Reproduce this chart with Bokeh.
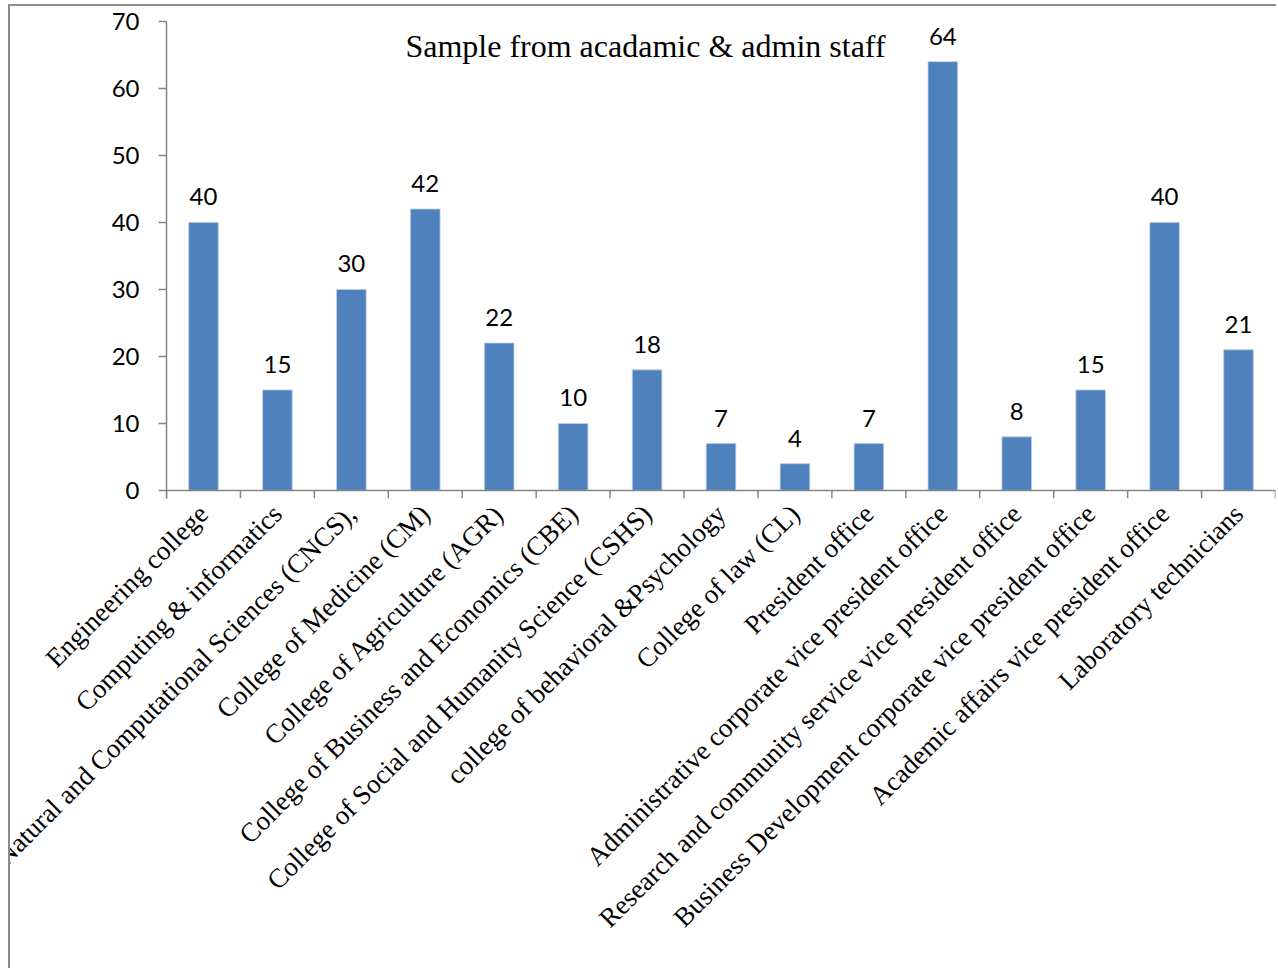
import math
from bokeh.plotting import figure
from bokeh.models import (FactorRange, Range1d, FixedTicker, Label,
                          ColumnDataSource, Span)
from bokeh.core.properties import value
from bokeh.embed import file_html
from bokeh.resources import INLINE

categories = [
    "Engineering college",
    "Computing & informatics",
    "College of Natural and Computational Sciences (CNCS),",
    "College of Medicine (CM)",
    "College of Agriculture (AGR)",
    "College of Business and Economics (CBE)",
    "College of Social and Humanity Science (CSHS)",
    "college of behavioral &Psychology",
    "College of law (CL)",
    "President office",
    "Administrative corporate vice president office",
    "Research and community service vice president office",
    "Business Development corporate vice president office",
    "Academic affairs vice president office",
    "Laboratory technicians",
]
counts = [40, 15, 30, 42, 22, 10, 18, 7, 4, 7, 64, 8, 15, 40, 21]
y_ticks = [0, 10, 20, 30, 40, 50, 60, 70]
title_text = "Sample from acadamic & admin staff"

AXIS = "#868686"
BAR = "#4F81BD"
Y_MIN = -1.2  # room below zero for the category tick marks

src = ColumnDataSource(dict(cat=categories, n=counts, lab=[str(v) for v in counts]))

p = figure(width=1268, height=964, x_range=FactorRange(*categories),
           y_range=Range1d(Y_MIN, 70), output_backend="svg", toolbar_location=None,
           min_border_left=156, min_border_right=3, min_border_top=15,
           min_border_bottom=472)
p.styles = {"margin-left": "8px", "margin-top": "4px",
            "border-left": "2px solid #8c8c8c", "border-top": "2px solid #8c8c8c"}
p.outline_line_color = None
p.grid.visible = False

p.vbar(x="cat", top="n", width=0.4, source=src, fill_color=BAR,
       line_color="#b9cde5", line_width=0.8)

p.text(x="cat", y="n", text="lab", source=src, text_align="center",
       text_baseline="bottom", y_offset=-17, text_font=value("Lato"),
       text_font_size="24px", text_color="black")

# x axis line at zero and tick marks at category boundaries
p.add_layout(Span(location=0, dimension="width", line_color=AXIS, line_width=1.5))
bounds = list(range(len(categories) + 1))
p.segment(x0=bounds, y0=[0] * len(bounds), x1=bounds, y1=[Y_MIN] * len(bounds),
          line_color=AXIS, line_width=1.5)

# y axis
ya = p.yaxis[0]
ya.ticker = FixedTicker(ticks=y_ticks)
ya.axis_line_color = AXIS
ya.axis_line_width = 1.5
ya.major_tick_line_color = AXIS
ya.major_tick_line_width = 1.5
ya.major_tick_out = 8
ya.major_tick_in = 0
ya.minor_tick_line_color = None
ya.major_label_text_font = "Lato"
ya.major_label_text_font_size = "24px"
ya.major_label_text_color = "black"
ya.major_label_standoff = 19

# category labels
xa = p.xaxis[0]
xa.axis_line_color = None
xa.major_tick_line_color = None
xa.major_tick_out = 0
xa.major_tick_in = 0
xa.major_label_orientation = math.pi / 4
xa.major_label_text_font = "Liberation Serif"
xa.major_label_text_font_size = "27px"
xa.major_label_text_color = "black"
xa.major_label_standoff = 11

p.add_layout(Label(x=479, y=453, x_units="screen", y_units="screen",
                   text=title_text, text_align="center", text_baseline="middle",
                   text_font="Liberation Serif", text_font_size="32px",
                   text_color="black"))

open("out.html", "w").write(file_html(p, INLINE))
